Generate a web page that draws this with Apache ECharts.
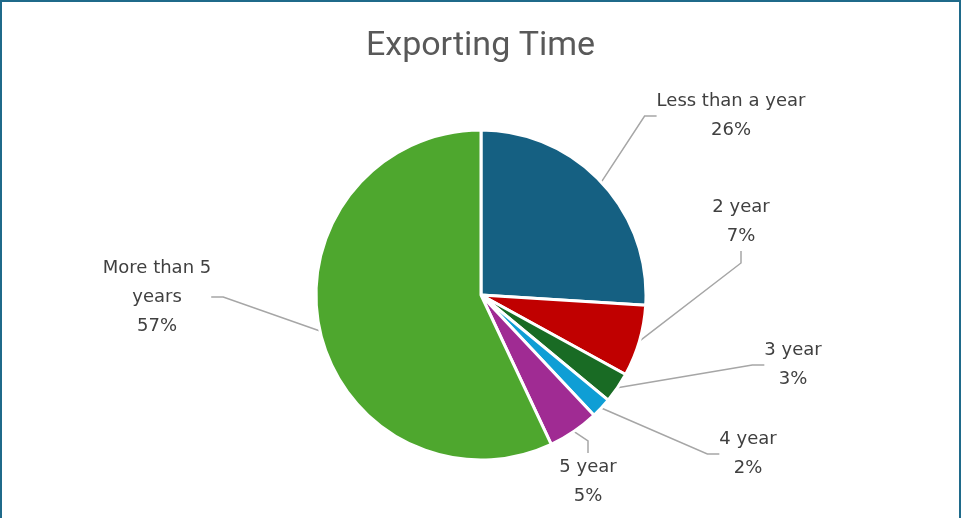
<!DOCTYPE html>
<html><head><meta charset="utf-8">
<script src="https://cdn.jsdelivr.net/npm/echarts@6/dist/echarts.min.js"></script>
<style>
html,body{margin:0;padding:0;background:#fff;}
#frame{position:absolute;left:0;top:0;width:957px;height:516px;border:2px solid #1f6a8a;border-bottom:2px solid #c9d6de;}
#c{position:absolute;left:0;top:0;width:961px;height:518px;}
</style></head>
<body><div id="frame"></div><div id="c"></div>
<script>
const categories = ['Less than a year', '2 year', '3 year', '4 year', '5 year', 'More than 5\nyears'];
const values = [26, 7, 3, 2, 5, 57];
const colors = ['#156082', '#C00000', '#196B24', '#0F9ED5', '#A02B93', '#4EA72E'];
// label centres (layout only)
const labelPos = [[731,116],[741,222],[793,365],[748,454],[588,482],[157,297]];

const chart = echarts.init(document.getElementById('c'));
chart.setOption({
  animation: false,
  title: {
    text: 'Exporting Time', left: 'center', top: 24,
    textStyle: {fontFamily: 'Roboto', fontSize: 34, fontWeight: 'normal', color: '#595959'}
  },
  series: [{
    type: 'pie',
    center: [481, 295],
    radius: 165,
    startAngle: 90,
    clockwise: true,
    data: categories.map((n, i) => ({name: n, value: values[i], itemStyle: {color: colors[i]}})),
    itemStyle: {borderColor: '#fff', borderWidth: 3},
    label: {
      show: true,
      formatter: '{b}\n{d}%',
      fontFamily: 'DejaVu Sans',
      fontSize: 18,
      lineHeight: 29,
      color: '#404040',
      align: 'center'
    },
    labelLine: {show: true, length: 20, length2: 12, lineStyle: {color: '#A6A6A6', width: 1.5}},
    labelLayout: function (p) {
      const pos = labelPos[p.dataIndex];
      return {x: pos[0], y: pos[1], align: 'center', verticalAlign: 'middle'};
    }
  }]
});
</script></body></html>
